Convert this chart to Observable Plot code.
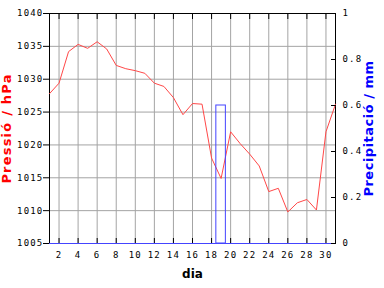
<!DOCTYPE html>
<html><head><meta charset="utf-8">
<script src="https://cdn.jsdelivr.net/npm/d3@7"></script>
<script src="https://cdn.jsdelivr.net/npm/@observablehq/plot@0.6"></script>
<style>
html,body{margin:0;padding:0;background:#fff;}
#wrap{position:relative;width:384px;height:288px;overflow:hidden;}
#wrap svg{position:absolute;left:0;top:0;}
</style></head><body><div id="wrap"></div>
<script>
const days = [1,2,3,4,5,6,7,8,9,10,11,12,13,14,15,16,17,18,19,20,21,22,23,24,25,26,27,28,29,30,31];
const pressure = [1027.8,1029.4,1034.2,1035.3,1034.7,1035.7,1034.6,1032.1,1031.6,1031.3,1030.9,1029.4,1028.9,1027.2,1024.6,1026.3,1026.2,1018.0,1014.9,1022.0,1020.2,1018.6,1016.8,1012.9,1013.4,1009.8,1011.2,1011.7,1010.1,1022.0,1026.2];
const precipitation = [0,0,0,0,0,0,0,0,0,0,0,0,0,0,0,0,0,0,0.6,0,0,0,0,0,0,0,0,0,0,0,0];
const dayTicks = [2,4,6,8,10,12,14,16,18,20,22,24,26,28,30];
const pressureTicks = [1005,1010,1015,1020,1025,1030,1035,1040];
const pressureTickLabels = ["1005","1010","1015","1020","1025","1030","1035","1040"];
const pressureGrid = [1010,1015,1020,1025,1030,1035];
const precipTicks = [0,0.2,0.4,0.6,0.8,1];
const precipTickLabels = ["0","0.2","0.4","0.6","0.8","1"];
const xLabel = "dia";
const yLabel = "Pressió / hPa";
const y2Label = "Precipitació / mm";

const W = 384, H = 288;
const margins = {marginLeft: 49, marginRight: 49, marginTop: 13, marginBottom: 45};
const baseStyle = {background: "transparent", fontFamily: "DejaVu Sans Mono", fontSize: "9px", letterSpacing: "1.2px", color: "black", overflow: "visible"};

const pts = days.map((d, i) => ({day: d, hPa: pressure[i]}));
const rain = days.map((d, i) => ({day: d, mm: precipitation[i]}));

const pressureChart = Plot.plot({
  width: W, height: H, ...margins,
  style: baseStyle,
  x: {domain: [1, 31]},
  y: {domain: [1005, 1040]},
  marks: [
    Plot.gridX(dayTicks, {stroke: "#a4a4a4", strokeOpacity: 1}),
    Plot.gridY(pressureGrid, {stroke: "#a4a4a4", strokeOpacity: 1}),
    Plot.ruleX([1, 31], {stroke: "black"}),
    Plot.ruleY([1040], {stroke: "black"}),
    Plot.axisX(dayTicks, {anchor: "bottom", tickSize: -5, tickPadding: 13, tickFormat: d => String(d), label: null}),
    Plot.axisX(dayTicks, {anchor: "top", tickSize: -5, tickFormat: () => "", label: null}),
    Plot.axisY(pressureTicks, {anchor: "left", tickSize: 6, tickPadding: 0, tickFormat: (d, i) => pressureTickLabels[i], label: null}),
    Plot.line(pts, {x: "day", y: "hPa", stroke: "#ff4848", strokeWidth: 1}),
    Plot.text([xLabel], {frameAnchor: "bottom", dy: 34, textAnchor: "middle", lineAnchor: "bottom", fontFamily: "DejaVu Sans", fontWeight: "bold", fontSize: 12, fill: "black"}),
    Plot.text([yLabel], {frameAnchor: "left", dx: -39, rotate: -90, textAnchor: "middle", lineAnchor: "bottom", fontFamily: "DejaVu Sans", fontWeight: "bold", fontSize: 13, fill: "#ff0000"})
  ]
});

const precipChart = Plot.plot({
  width: W, height: H, ...margins,
  style: baseStyle,
  x: {domain: [1, 31], axis: null},
  y: {domain: [0, 1], axis: null},
  marks: [
    Plot.rectY(rain, {filter: d => d.mm > 0, x1: d => d.day - 0.5, x2: d => d.day + 0.5, y1: 0, y2: "mm", fill: "none", stroke: "#4444ff"}),
    Plot.ruleY([0], {stroke: "#4444ff"}),
    Plot.axisY(precipTicks, {anchor: "right", tickSize: -5, tickPadding: 12, tickFormat: (d, i) => precipTickLabels[i], label: null}),
    Plot.text([y2Label], {frameAnchor: "right", dx: 37, rotate: -90, textAnchor: "middle", lineAnchor: "bottom", fontFamily: "DejaVu Sans", fontWeight: "bold", fontSize: 13, fill: "#0000ff"})
  ]
});

const wrap = document.getElementById("wrap");
wrap.appendChild(pressureChart);
wrap.appendChild(precipChart);
d3.selectAll("#wrap text").each(function() {
  const t = this.textContent;
  if (t === yLabel) this.style.letterSpacing = "1.2px";
  else if (t === y2Label) this.style.letterSpacing = "0.5px";
  else if (t === xLabel) this.style.letterSpacing = "0px";
});
</script></body></html>
